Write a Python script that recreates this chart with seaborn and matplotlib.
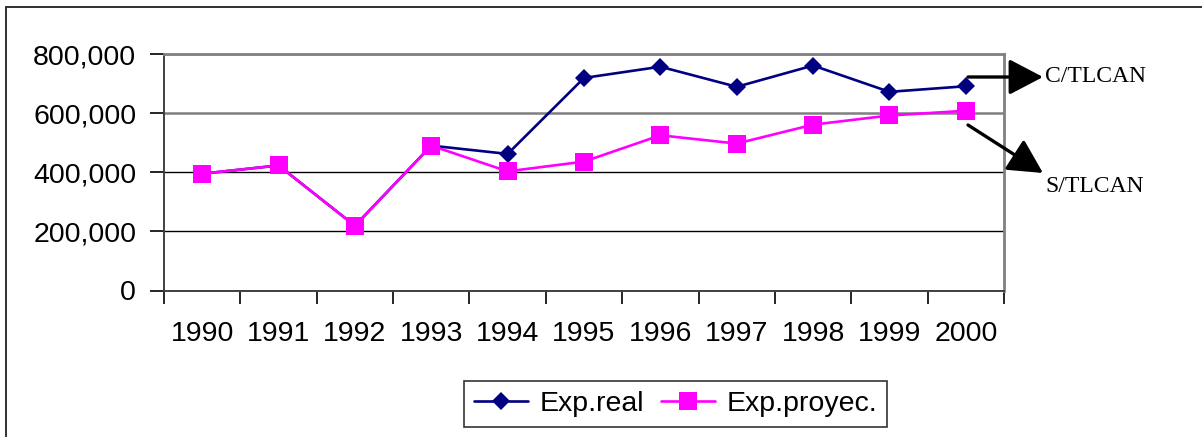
import matplotlib
matplotlib.use('Agg')
from matplotlib import pyplot as plt
from matplotlib.lines import Line2D
from matplotlib.ticker import FixedLocator, StrMethodFormatter
import pandas as pd
import seaborn as sns

years = ['1990', '1991', '1992', '1993', '1994', '1995',
         '1996', '1997', '1998', '1999', '2000']
exp_real = [395000, 423000, 219000, 490000, 462000, 719000,
            757000, 689000, 761000, 672000, 691000]
exp_proyec = [395000, 423000, 219000, 490000, 403000, 436000,
              525000, 497000, 561000, 592000, 608000]

df = pd.DataFrame({'Year': years, 'Exp.real': exp_real, 'Exp.proyec.': exp_proyec})

sns.set_style('white')
plt.rcParams['font.family'] = ['Liberation Sans', 'DejaVu Sans']
plt.rcParams['text.color'] = 'black'
plt.rcParams['xtick.color'] = 'black'
plt.rcParams['ytick.color'] = 'black'

fig = plt.figure(figsize=(12.02, 4.37), dpi=100)
ax = fig.add_axes([164 / 1202, 1 - 290.5 / 437, 840 / 1202, 236.5 / 437])

sns.lineplot(data=df, x='Year', y='Exp.real', ax=ax, color='#000080',
             marker='D', markeredgewidth=0, linewidth=1.9,
             label='Exp.real', sort=False)
sns.lineplot(data=df, x='Year', y='Exp.proyec.', ax=ax, color='#ff00ff',
             marker='s', markeredgewidth=0, linewidth=1.9,
             label='Exp.proyec.', sort=False)
ax.lines[0].set_markersize(9.5)
ax.lines[1].set_markersize(13.5)

ax.set_xlim(-0.5, len(years) - 0.5)
ax.set_ylim(0, 800000)
ax.set_yticks([0, 200000, 400000, 600000, 800000])
ax.yaxis.set_major_formatter(StrMethodFormatter('{x:,.0f}'))
ax.set_xlabel('')
ax.set_ylabel('')

# category boundaries as tick marks, labels centered in categories
ax.xaxis.set_minor_locator(FixedLocator([i - 0.5 for i in range(len(years) + 1)]))
ax.tick_params(axis='x', which='major', length=0, pad=22, labelsize=20.5, labelcolor='black')
ax.tick_params(axis='x', which='minor', length=9, width=1.2, color='black', direction='out', bottom=True)
ax.tick_params(axis='y', which='major', length=10, width=1.2, color='black', direction='out', left=True, pad=10,
               labelsize=20.5, labelcolor='black')

ax.yaxis.grid(True, color='black', linewidth=1)
ax.get_ygridlines()[3].set_color('#808080')
ax.get_ygridlines()[3].set_linewidth(1.8)
ax.set_axisbelow(True)

for side in ['left', 'bottom']:
    ax.spines[side].set_color('#404040')
    ax.spines[side].set_linewidth(1.4)
for side in ['top', 'right']:
    ax.spines[side].set_color('#808080')
    ax.spines[side].set_linewidth(2)

leg = ax.legend(loc='center', bbox_to_anchor=(675.5 / 1202, 33 / 437),
                bbox_transform=fig.transFigure, ncol=2, fontsize=20.5,
                frameon=True, fancybox=False, handlelength=1.9,
                handletextpad=0.4, columnspacing=0.6, borderpad=0.35,
                borderaxespad=0)
leg.get_frame().set_edgecolor('black')
leg.get_frame().set_linewidth(1.2)
for h, ms in zip(leg.legend_handles, [9.5, 13.5]):
    h.set_markersize(ms)
for t in leg.get_texts():
    t.set_color('black')

# outer chart border (left and top visible)
fig.add_artist(Line2D([6 / 1202, 6 / 1202], [0, 1 - 7 / 437], transform=fig.transFigure, color='#303030', linewidth=1.4))
fig.add_artist(Line2D([6 / 1202, 1], [1 - 7 / 437, 1 - 7 / 437], transform=fig.transFigure, color='#303030', linewidth=1.4))

# annotations
arrow_kw = dict(arrowstyle='-|>,head_length=1.05,head_width=0.55', color='black',
                linewidth=2.4, mutation_scale=20, shrinkA=0, shrinkB=0)
ax.annotate('', xy=(1043, 360), xycoords='figure pixels',
            xytext=(968, 360), textcoords='figure pixels', arrowprops=arrow_kw)
ax.annotate('', xy=(1043, 264), xycoords='figure pixels',
            xytext=(968, 312), textcoords='figure pixels', arrowprops=arrow_kw)
fig.text(1045 / 1202, 360 / 437, 'C/TLCAN', family='Liberation Serif', fontsize=17, va='center', ha='left')
fig.text(1045 / 1202, 250 / 437, 'S/TLCAN', family='Liberation Serif', fontsize=17, va='center', ha='left')

fig.savefig('out.png', dpi=100)
